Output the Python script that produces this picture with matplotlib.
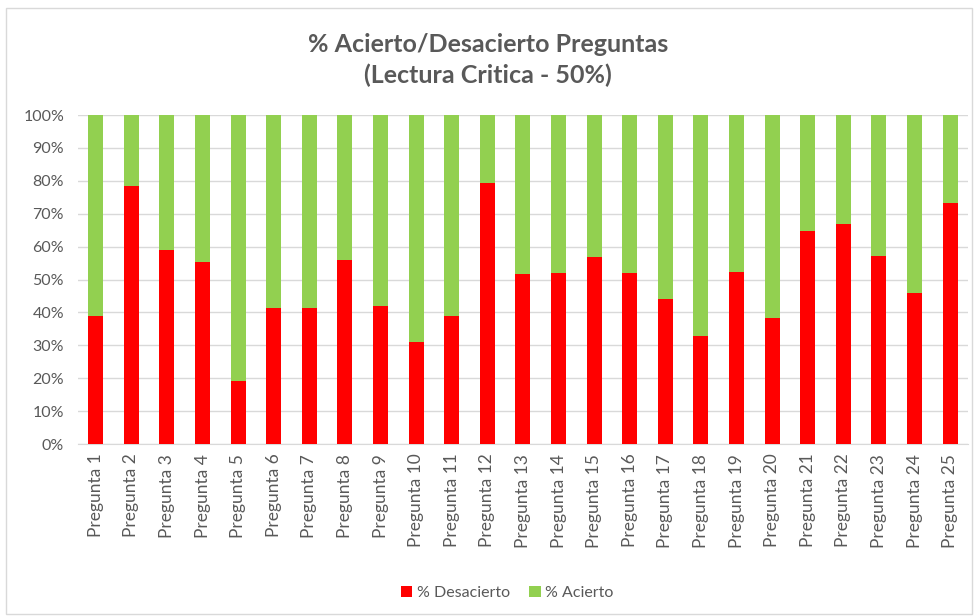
import matplotlib.pyplot as plt
import numpy as np
from matplotlib.patches import Rectangle

preguntas = [f"Pregunta {i}" for i in range(1, 26)]
desacierto = [39.0, 78.5, 59.0, 55.2, 19.1, 41.3, 41.3, 55.8, 42.0, 30.9,
              39.0, 79.3, 51.6, 52.1, 56.7, 52.1, 44.2, 32.7, 52.4, 38.4,
              64.7, 66.8, 57.2, 45.9, 73.4]
acierto = [100 - d for d in desacierto]

plt.rcParams['font.family'] = ['Lato', 'DejaVu Sans']

fig = plt.figure(figsize=(9.76, 6.16), dpi=100)
ax = fig.add_axes([0.0799, 0.2792, 0.9118, 0.5341])

x = np.arange(len(preguntas))
ax.bar(x, desacierto, width=0.42, color="#FF0000", label="% Desacierto", zorder=3)
ax.bar(x, acierto, width=0.42, bottom=desacierto, color="#92D050", label="% Acierto", zorder=3)

ax.set_xlim(-0.5, len(preguntas) - 0.5)
ax.set_ylim(0, 100)
ax.set_yticks(np.arange(0, 101, 10))
ax.set_yticklabels([f"{v}%" for v in range(0, 101, 10)])
ax.set_xticks(x)
ax.set_xticklabels(preguntas, rotation=90)
ax.tick_params(length=0, colors="#595959")
ax.tick_params(axis="y", pad=10, labelsize=11.5)
ax.tick_params(axis="x", pad=7, labelsize=12.5)
ax.grid(axis="y", color="#D9D9D9", linewidth=1, zorder=0)
for s in ["top", "right", "left"]:
    ax.spines[s].set_visible(False)
ax.spines["bottom"].set_color("#D9D9D9")

fig.text(0.5, 0.928, "% Acierto/Desacierto Preguntas", ha="center", va="center",
         fontsize=18, fontweight="bold", color="#595959")
fig.text(0.5, 0.877, "(Lectura Critica - 50%)", ha="center", va="center",
         fontsize=18, fontweight="bold", color="#595959")

fig.legend(loc="center", bbox_to_anchor=(0.52, 0.037), ncol=2, frameon=False,
           fontsize=11.5, labelcolor="#595959", handlelength=0.7, handleheight=0.7,
           handletextpad=0.3, columnspacing=1.2)

fig.patches.append(Rectangle((0.006, 0.004), 0.99, 0.983, transform=fig.transFigure,
                             fill=False, edgecolor="#D9D9D9", linewidth=1))

fig.savefig("out.png", dpi=100)
